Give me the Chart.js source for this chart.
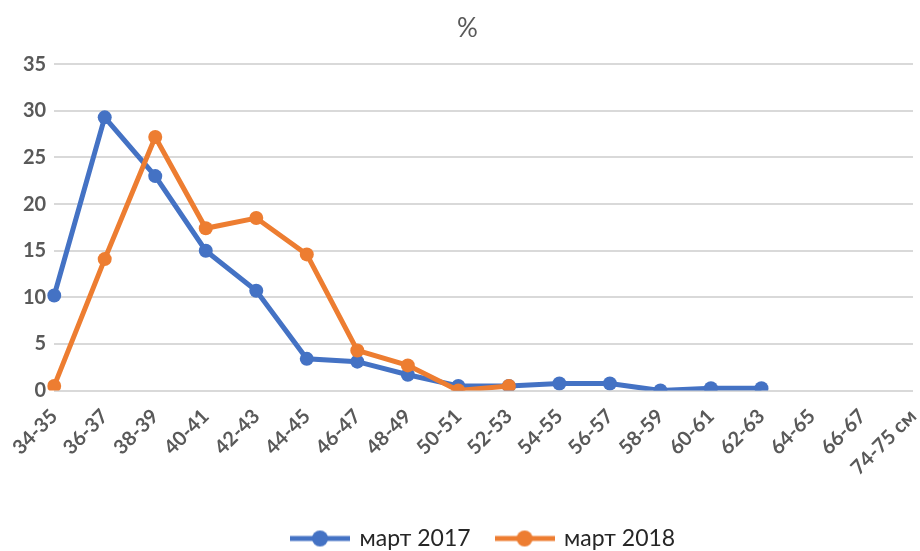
<!DOCTYPE html>
<html>
<head>
<meta charset="utf-8">
<script src="https://cdn.jsdelivr.net/npm/chart.js@4.4.1/dist/chart.umd.min.js"></script>
<style>
  html, body { margin: 0; padding: 0; background: #fff; }
  #wrap { width: 920px; height: 551px; }
</style>
</head>
<body>
<div id="wrap"><canvas id="chart"></canvas></div>
<script>
// Size groups (x axis)
const sizes = ["34-35", "36-37", "38-39", "40-41", "42-43", "44-45", "46-47", "48-49", "50-51",
  "52-53", "54-55", "56-57", "58-59", "60-61", "62-63", "64-65", "66-67", "74-75 см"];

// Share of each size, %
const march2017 = [10.2, 29.3, 23.0, 15.0, 10.7, 3.4, 3.1, 1.7, 0.5, 0.5, 0.75, 0.75, 0, 0.25, 0.25, null, null, null];
const march2018 = [0.5, 14.1, 27.2, 17.4, 18.5, 14.6, 4.3, 2.7, 0, 0.5, null, null, null, null, null, null, null, null];

const yTicks = [0, 5, 10, 15, 20, 25, 30, 35];

const blue = "#4472C4";
const orange = "#ED7D31";
const grey = "#595959";
const fontFamily = "Lato, 'Open Sans', sans-serif";

// Legend marker: a line with a dot in the middle, like the office charts
function legendMarker(color) {
  const c = document.createElement("canvas");
  c.width = 60;
  c.height = 18;
  const g = c.getContext("2d");
  g.strokeStyle = color;
  g.lineWidth = 5;
  g.beginPath();
  g.moveTo(0, 9);
  g.lineTo(60, 9);
  g.stroke();
  g.fillStyle = color;
  g.beginPath();
  g.arc(30, 9, 8, 0, Math.PI * 2);
  g.fill();
  return c;
}

// Center the legend under the plot area instead of the whole canvas
const legendUnderPlot = {
  id: "legendUnderPlot",
  afterLayout(chart) {
    const lg = chart.legend;
    if (!lg) return;
    const shift = (chart.chartArea.left + chart.chartArea.right) / 2 - (lg.left + lg.right) / 2;
    lg.left += shift;
    lg.right += shift;
  },
};

const ctx = document.getElementById("chart").getContext("2d");

new Chart(ctx, {
  type: "line",
  data: {
    labels: sizes,
    datasets: [
      {
        label: "март 2017",
        data: march2017,
        borderColor: blue,
        backgroundColor: blue,
        borderWidth: 5,
        pointRadius: 7,
        pointBorderWidth: 0,
        order: 1,
      },
      {
        // drawn on top of the blue line
        label: "март 2018",
        data: march2018,
        borderColor: orange,
        backgroundColor: orange,
        borderWidth: 5,
        pointRadius: 7,
        pointBorderWidth: 0,
        order: 0,
      },
    ],
  },
  plugins: [legendUnderPlot],
  options: {
    responsive: true,
    maintainAspectRatio: false,
    animation: false,
    layout: { padding: { left: 15, right: 0, top: 4, bottom: -9 } },
    plugins: {
      title: {
        display: true,
        text: "%",
        color: grey,
        font: { size: 26, weight: "normal", family: fontFamily },
        padding: { top: 9, bottom: 20 },
      },
      legend: {
        position: "bottom",
        labels: {
          usePointStyle: true,
          pointStyleWidth: 56,
          color: "#262626",
          font: { size: 23, family: fontFamily },
          padding: 26,
          generateLabels: (chart) =>
            chart.data.datasets.map((ds, i) => ({
              text: ds.label,
              pointStyle: legendMarker(ds.borderColor),
              fillStyle: ds.borderColor,
              strokeStyle: ds.borderColor,
              lineWidth: 0,
              datasetIndex: i,
              hidden: false,
              fontColor: "#262626",
            })),
        },
      },
      tooltip: { enabled: false },
    },
    scales: {
      x: {
        offset: false,
        grid: { display: false },
        border: { display: false },
        // last label hangs down-left, so no room is needed on the right;
        // extra height leaves the gap above the legend
        afterFit: (scale) => {
          scale.paddingRight = 0;
          scale.height += 15;
        },
        ticks: {
          autoSkip: false,
          maxRotation: 45,
          minRotation: 45,
          color: grey,
          padding: 6,
          font: { size: 20, weight: "bold", family: fontFamily },
        },
      },
      y: {
        min: 0,
        max: 35,
        afterBuildTicks: (axis) => {
          axis.ticks = yTicks.map((v) => ({ value: v }));
        },
        grid: { color: "#D9D9D9", lineWidth: 2, drawTicks: false },
        border: { display: false },
        ticks: {
          color: grey,
          padding: 8,
          font: { size: 20, weight: "bold", family: fontFamily },
        },
      },
    },
  },
});
</script>
</body>
</html>
